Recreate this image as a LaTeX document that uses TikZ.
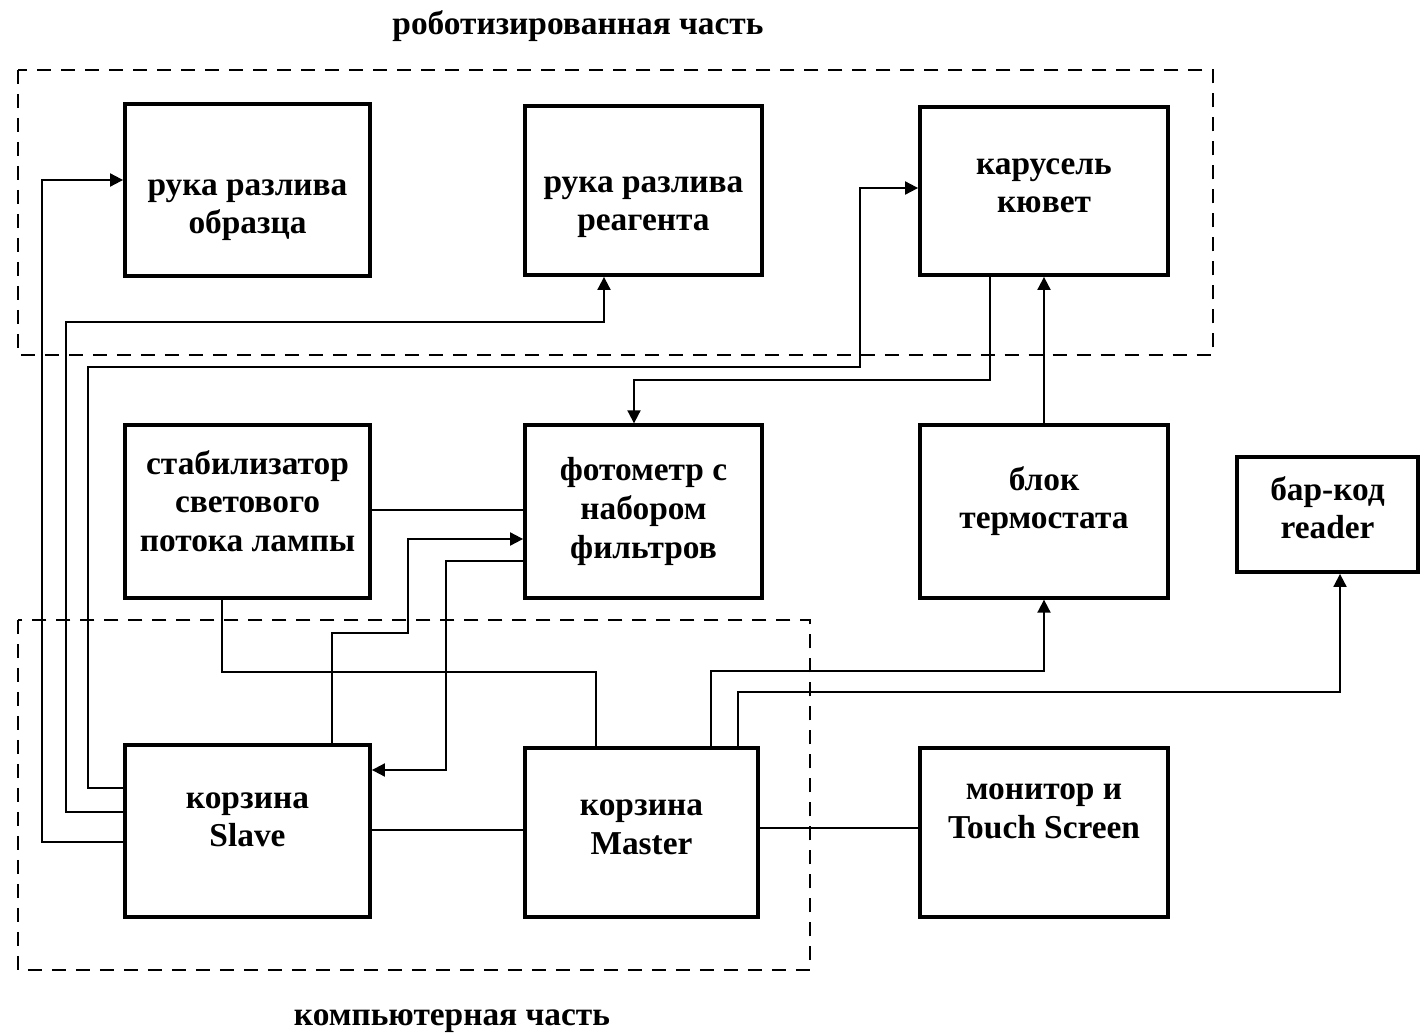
\documentclass[tikz,border=0pt]{standalone}
\usepackage{fontspec}
\setmainfont{Liberation Serif}
\usepackage{tikz}
\usetikzlibrary{arrows.meta,calc}

\begin{document}
\begin{tikzpicture}[
      x=0.02cm, y=-0.02cm,
      font=\fontsize{19}{22}\selectfont\bfseries,
      blk/.style={draw, line width=2.2pt, align=center, inner sep=4pt,
        minimum width=4.9cm, minimum height=3.45cm},
      wire/.style={line width=1.1pt},
      arr/.style={wire, -{Triangle[length=0.26cm,width=0.26cm]}},
      zone/.style={line width=1.1pt, dash pattern=on 0.28cm off 0.2cm}
    ]
    \useasboundingbox (0,0) rectangle (1420,1034);
    % groups
    \draw[zone] (18,70) rectangle (1213,355);
    \draw[zone] (18,620) rectangle (810,970);
    \node (robot) at (578,26) {роботизированная часть};
    \node (comp) at (452,1021) {компьютерная часть};
    % blocks
    \node[blk, text height=54pt] (obr) at (247.5,190) {рука разлива\\образца};
    \node[blk, minimum width=4.74cm, minimum height=3.38cm, text height=50pt] (reag) at (643.5,190.5) {рука разлива\\реагента};
    \node[blk, minimum width=4.96cm, minimum height=3.36cm, text depth=6pt] (kar) at (1044,191) {карусель\\кювет};
    \node[blk, text depth=12pt] (stab) at (247.5,511.5) {стабилизатор\\светового\\потока лампы};
    \node[blk, minimum width=4.74cm] (foto) at (643.5,511.5) {фотометр с\\набором\\фильтров};
    \node[blk, minimum width=4.96cm, text depth=16pt] (term) at (1044,511.5) {блок\\термостата};
    \node[blk, minimum width=3.62cm, minimum height=2.3cm, text depth=8pt] (bar) at (1327.5,514.5) {бар-код\\reader};
    \node[blk, text depth=13pt] (slave) at (247.5,831) {корзина\\Slave};
    \node[blk, minimum width=4.66cm, minimum height=3.38cm, text depth=6pt] (master) at (641.5,832.5) {корзина\\Master};
    \node[blk, minimum width=4.96cm, minimum height=3.38cm, text depth=24pt] (mon) at (1044,832.5) {монитор и\\Touch Screen};
    % connectors
    \draw[arr] (slave.west |- 0,788) -| (88,367) -| (860,188) -- (kar.west |- 0,188);
    \draw[arr] (slave.west |- 0,812) -| (66,322) -| (604,0 |- reag.south);
    \draw[arr] (slave.west |- 0,842) -| (42,180) -- (obr.west |- 0,180);
    \draw[arr] (990,0 |- kar.south) -- (990,380) -| (634,0 |- foto.north);
    \draw[arr] (term.north) -- (term.north |- kar.south);
    \draw[wire] (stab.east |- 0,510) -- (foto.west |- 0,510);
    \draw[arr] (332,0 |- slave.north) -- (332,633) -| (408,539) -- (foto.west |- 0,539);
    \draw[arr] (foto.west |- 0,561) -| (446,770) -- (slave.east |- 0,770);
    \draw[wire] (222,0 |- stab.south) |- (596,672) -- (596,0 |- master.north);
    \draw[arr] (711,0 |- master.north) |- (term.south |- 0,671) -- (term.south);
    \draw[arr] (738,0 |- master.north) |- (1340,692) -- (1340,0 |- bar.south);
    \draw[wire] (slave.east |- 0,830) -- (master.west |- 0,830);
    \draw[wire] (master.east |- 0,828) -- (mon.west |- 0,828);
  \end{tikzpicture}
\end{document}
